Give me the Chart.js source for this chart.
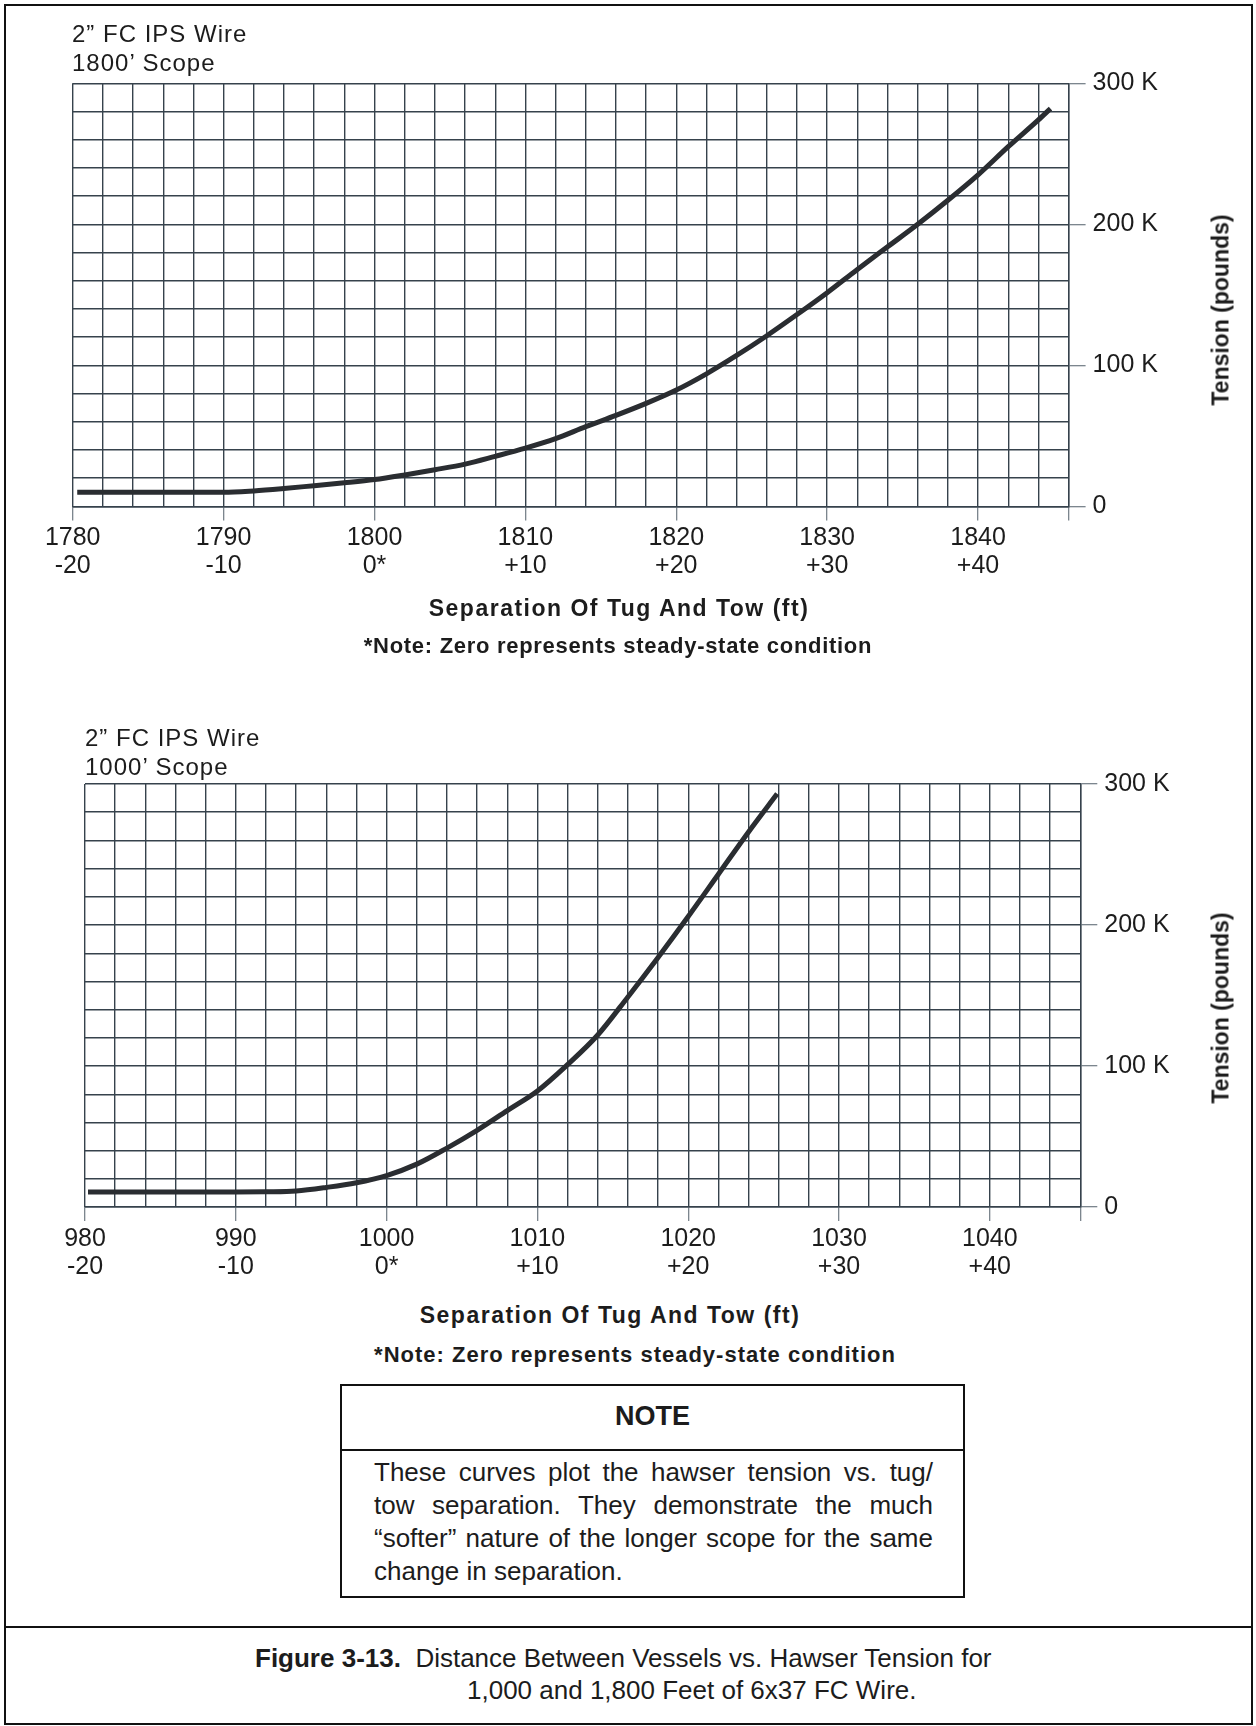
<!DOCTYPE html>
<html>
<head>
<meta charset="utf-8">
<script src="https://cdn.jsdelivr.net/npm/chart.js@4.4.1/dist/chart.umd.min.js"></script>
<style>
  html, body { margin:0; padding:0; background:#fff; }
  body { width:1256px; height:1726px; position:relative; overflow:hidden;
         font-family:"Liberation Sans", Arial, Helvetica, sans-serif; color:#1c1c1c; }
  .abs { position:absolute; line-height:1; white-space:nowrap; z-index:2; }
  .head { font-size:24px; letter-spacing:1px; }
  .ctr { transform:translateX(-50%); }
  .xt { font-size:23px; font-weight:bold; letter-spacing:1.5px; }
  .nt { font-size:22px; font-weight:bold; }
  .yt { font-size:23px; font-weight:bold; transform:translate(-50%,-50%) rotate(-90deg); }
  canvas { position:absolute; left:0; z-index:1; }
  #frame { position:absolute; left:4px; top:4px; width:1249px; height:1721px; box-sizing:border-box;
           border:2px solid #111; }
  #sep { position:absolute; left:4px; width:1249px; top:1625.5px; height:2px; background:#111; }
  #note { position:absolute; left:340px; top:1384px; width:625px; height:214px; box-sizing:border-box;
          border:2px solid #111; }
  #noteDiv { position:absolute; left:0; right:0; top:63px; height:2px; background:#111; }
  #noteHead { position:absolute; left:0; right:0; top:17px; text-align:center; font-size:27px;
              font-weight:bold; line-height:1; }
  #noteBody { position:absolute; left:32px; width:559px; top:70.4px; font-size:26px; line-height:33px; }
  #noteBody div { text-align:justify; text-align-last:justify; }
  #noteBody div.last { text-align-last:left; }
  .cap { font-size:26px; }
</style>
</head>
<body>
<div id="frame"></div>
<div id="sep"></div>

<!-- Top chart texts -->
<div class="abs head" style="left:72px; top:21.8px;">2” FC IPS Wire</div>
<div class="abs head" style="left:72px; top:51.1px;">1800’ Scope</div>
<div class="abs xt ctr" style="left:619px; top:596.6px;">Separation Of Tug And Tow (ft)</div>
<div class="abs nt ctr" style="left:618px; top:634.6px; letter-spacing:0.7px;">*Note: Zero represents steady-state condition</div>
<div class="abs yt" style="left:1221px; top:310px;">Tension (pounds)</div>

<!-- Bottom chart texts -->
<div class="abs head" style="left:85px; top:726.1px;">2” FC IPS Wire</div>
<div class="abs head" style="left:85px; top:755.4px;">1000’ Scope</div>
<div class="abs xt ctr" style="left:610px; top:1303.8px;">Separation Of Tug And Tow (ft)</div>
<div class="abs nt ctr" style="left:635px; top:1344.2px; letter-spacing:1px;">*Note: Zero represents steady-state condition</div>
<div class="abs yt" style="left:1221px; top:1008px;">Tension (pounds)</div>

<div id="note">
  <div id="noteHead">NOTE</div>
  <div id="noteDiv"></div>
  <div id="noteBody">
    <div>These curves plot the hawser tension vs. tug/</div>
    <div>tow separation. They demonstrate the much</div>
    <div>“softer” nature of the longer scope for the same</div>
    <div class="last">change in separation.</div>
  </div>
</div>

<div class="abs cap" style="left:255px; top:1644.5px;"><b>Figure 3-13.</b>&nbsp; Distance Between Vessels vs. Hawser Tension for</div>
<div class="abs cap" style="left:467px; top:1677px;">1,000 and 1,800 Feet of 6x37 FC Wire.</div>

<canvas id="c1" width="1256" height="560" style="top:40px"></canvas>
<canvas id="c2" width="1256" height="560" style="top:740px"></canvas>

<script>
// ---------- Data ----------
// 1800' scope curve: separation (ft) and tension (K pounds)
const sep1800 = [1780.3, 1784, 1788, 1790, 1792, 1794, 1796, 1798, 1800, 1802, 1804, 1806, 1808, 1810,
                 1812, 1814, 1816, 1818, 1820, 1822, 1824, 1826, 1828, 1830, 1832, 1834, 1836, 1838,
                 1840, 1842, 1844, 1844.8];
const tension1800 = [10, 10, 10, 10, 11, 12.7, 14.7, 16.7, 19, 22.3, 26, 30, 35.5, 41.3,
                     48, 56.5, 64.5, 73, 82.5, 94, 107, 121, 136, 151.5, 168, 184, 200, 217,
                     235, 255, 274, 282];

// 1000' scope curve
const sep1000 = [980.2, 984, 988, 990, 992, 994, 996, 998, 1000, 1002, 1004, 1006, 1008, 1010,
                 1012, 1014, 1016, 1018, 1020, 1022, 1024, 1025.9];
const tension1000 = [10.6, 10.6, 10.6, 10.6, 10.8, 11.4, 13.9, 17.2, 22.3, 30.4, 41.8, 54.4, 68.4, 82.3,
                     101, 122, 149, 177, 206, 236, 266, 293];

// Axis ranges and tick labels
const xRange1800 = [1780, 1846];
const xRange1000 = [980, 1046];
const xTickStep = 2;
const xLabelValues1800 = [1780, 1790, 1800, 1810, 1820, 1830, 1840];
const xLabelValues1000 = [980, 990, 1000, 1010, 1020, 1030, 1040];
const offsetLabels = ['-20', '-10', '0*', '+10', '+20', '+30', '+40'];
const yTickValues = [0, 100000, 200000, 300000];
const yTickLabels = ['0', '100 K', '200 K', '300 K'];
const yRange = [0, 300000];
const yTickStep = 20000;

// ---------- Styles ----------
const FONT = '"Liberation Sans", Arial, Helvetica, sans-serif';
const GRID = '#36424c';
const TICK = '#6e7982';
const CURVE = '#2a2d31';
const TEXT = '#1c1c1c';

function makeChart(canvasId, xs, ys, xRange, labelValues, geom) {
  const pts = xs.map((x, i) => ({ x: x, y: ys[i] * 1000 }));
  return new Chart(document.getElementById(canvasId), {
    type: 'line',
    data: { datasets: [{
      data: pts,
      borderColor: CURVE,
      borderWidth: 5,
      pointRadius: 0,
      fill: false,
      cubicInterpolationMode: 'monotone',
      borderCapStyle: 'butt'
    }]},
    options: {
      responsive: false,
      animation: false,
      devicePixelRatio: 1,
      layout: { padding: { left: geom.left, top: geom.top, right: 0, bottom: 0 } },
      plugins: { legend: { display: false }, tooltip: { enabled: false }, title: { display: false } },
      scales: {
        x: {
          type: 'linear',
          position: 'bottom',
          min: xRange[0], max: xRange[1],
          afterFit: s => { s.height = geom.xH; },
          afterBuildTicks: s => {
            const t = [];
            for (let v = xRange[0]; v <= xRange[1] + 1e-9; v += xTickStep) t.push({ value: v });
            s.ticks = t;
          },
          grid: {
            color: GRID,
            lineWidth: 1.4,
            drawTicks: true,
            tickLength: 14,
            tickWidth: 1.2,
            tickColor: c => {
              const v = c.tick ? c.tick.value : null;
              return (labelValues.includes(v) || v === xRange[1]) ? TICK : 'rgba(0,0,0,0)';
            }
          },
          border: { display: true, color: GRID, width: 1.4 },
          ticks: {
            autoSkip: false, maxRotation: 0, minRotation: 0,
            padding: 4,
            color: TEXT,
            font: { family: FONT, size: 25, lineHeight: 1.12 },
            callback: v => {
              const i = labelValues.indexOf(v);
              return i >= 0 ? [String(labelValues[i]), offsetLabels[i]] : '';
            }
          }
        },
        y: {
          type: 'linear',
          position: 'right',
          min: yRange[0], max: yRange[1],
          afterFit: s => { s.width = geom.yW; },
          afterBuildTicks: s => {
            const t = [];
            for (let v = yRange[0]; v <= yRange[1]; v += yTickStep) t.push({ value: v });
            s.ticks = t;
          },
          grid: {
            color: GRID,
            lineWidth: 1.4,
            drawTicks: true,
            tickLength: 17,
            tickWidth: 1.2,
            tickColor: c => (c.tick && yTickValues.includes(c.tick.value)) ? TICK : 'rgba(0,0,0,0)'
          },
          border: { display: true, color: GRID, width: 1.4 },
          ticks: {
            autoSkip: false,
            padding: 7,
            color: TEXT,
            font: { family: FONT, size: 25 },
            callback: v => {
              const i = yTickValues.indexOf(v);
              return i >= 0 ? yTickLabels[i] : '';
            }
          }
        }
      }
    }
  });
}

// Plot area targets: top chart 72.7..1068.6 x 83.2..506.4 (canvas top 40)
makeChart('c1', sep1800, tension1800, xRange1800, xLabelValues1800,
          { left: 72.7, top: 43.2, xH: 560 - (506.4 - 40), yW: 1256 - 1068.6 });
// bottom chart 85..1080.3 x 784..1207 (canvas top 740)
makeChart('c2', sep1000, tension1000, xRange1000, xLabelValues1000,
          { left: 85, top: 44, xH: 560 - (1207 - 740), yW: 1256 - 1080.3 });
</script>
</body>
</html>
